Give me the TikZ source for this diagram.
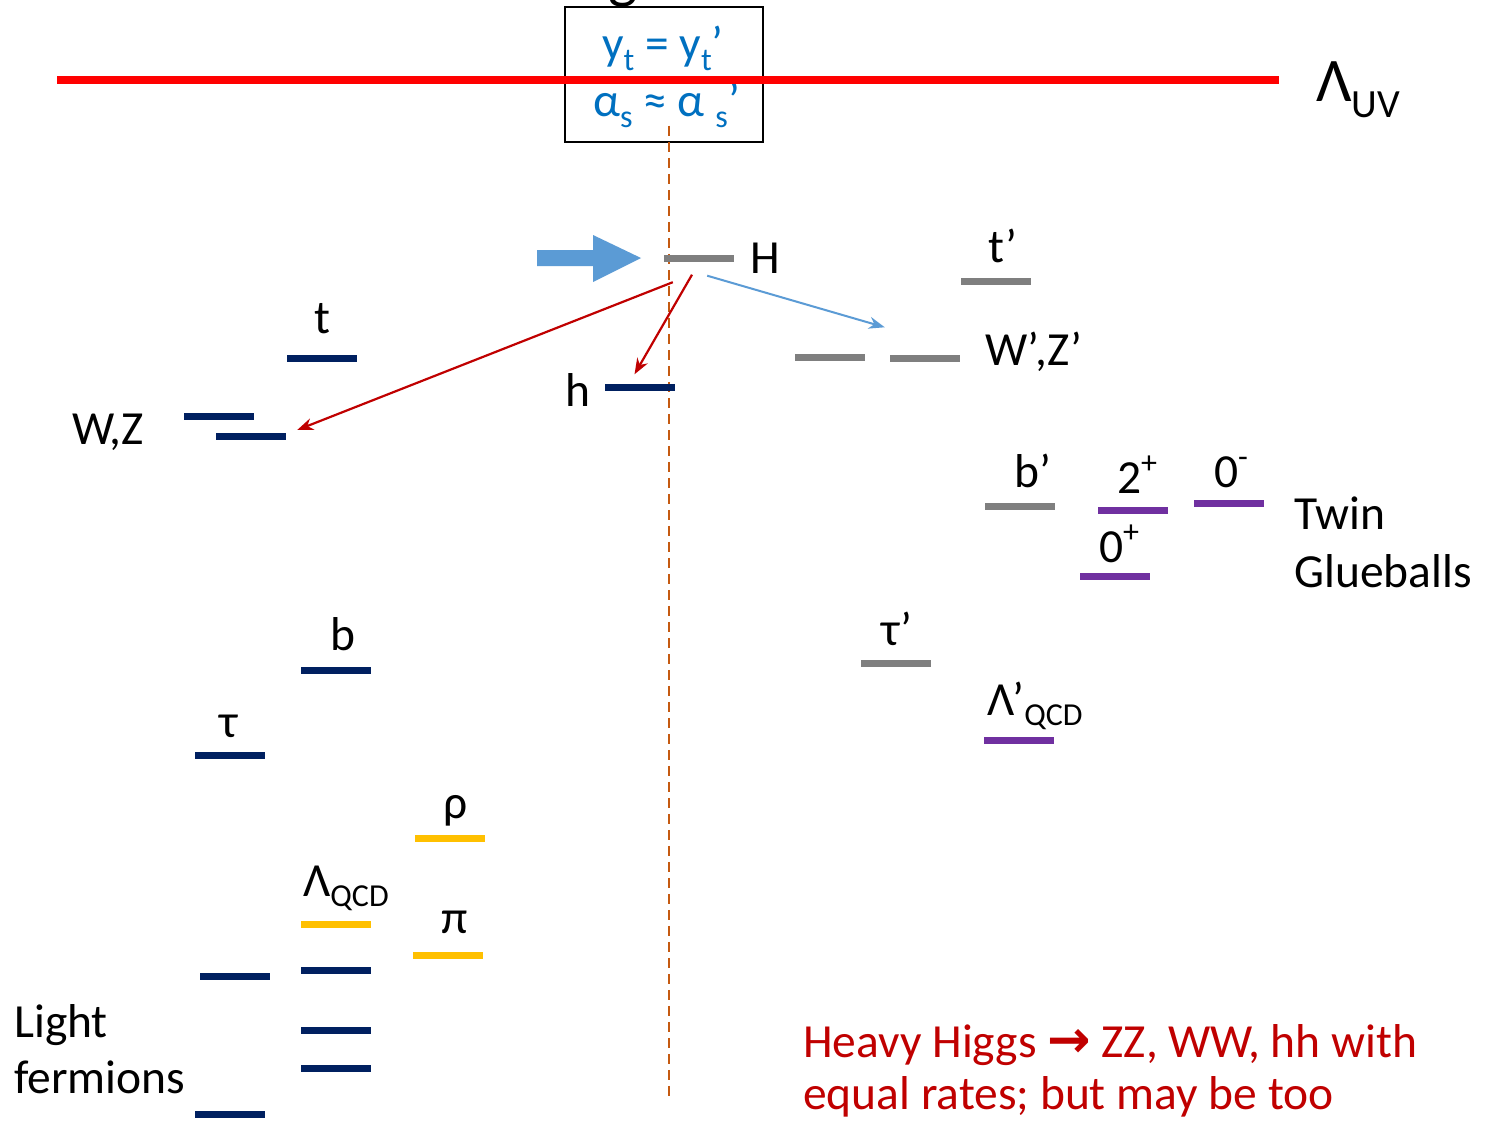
\documentclass[tikz,border=0pt]{standalone}
\usepackage{fontspec}
\setmainfont{Carlito}
\newfontfamily\dejavu{DejaVu Sans}
\usetikzlibrary{arrows.meta,calc}
\definecolor{navy}{HTML}{002060}
\definecolor{lvlgray}{HTML}{7F7F7F}
\definecolor{twinpurple}{HTML}{7030A0}
\definecolor{qcdyellow}{HTML}{FFC000}
\definecolor{boxblue}{HTML}{0070C0}
\definecolor{arrowblue}{HTML}{5B9BD5}
\definecolor{darkred}{HTML}{C00000}
\definecolor{dashorange}{HTML}{C55A11}
\newcommand\sbs[1]{\raisebox{-0.22em}{\fontsize{32}{32}\selectfont #1}}
\newcommand\sps[1]{\raisebox{0.42em}{\fontsize{32}{32}\selectfont #1}}
\begin{document}
\begin{tikzpicture}[x=1pt,y=-1pt,
  lvl/.style={rectangle, inner sep=0pt, minimum width=70pt, minimum height=7pt},
  sm/.style={fill=navy}, tw/.style={fill=lvlgray}, pu/.style={fill=twinpurple}, ye/.style={fill=qcdyellow},
  lbl/.style={inner sep=0pt, anchor=base, font=\fontsize{47.5}{57}\selectfont},
  lblw/.style={lbl, anchor=base west},
  decay/.style={darkred, line width=2.2pt, -{Stealth[length=16pt,width=12pt]}},
  mix/.style={arrowblue, line width=2pt, -{Stealth[length=16pt,width=12pt]}}]
\useasboundingbox (0,0) rectangle (1488,1121);
\fill[white] (0,0) rectangle (1488,1121);

% cut-off title glyph
\node[anchor=base, inner sep=0pt, font=\fontsize{62}{62}\selectfont] (gfrag) at (623,-3) {g};

% coupling box
\node[draw, line width=1.5pt, minimum width=198pt, minimum height=135pt, inner sep=0pt] (box) at (664,74.5) {};
\node[lblw, text=boxblue] (c1) at (602,60) {y\sbs{t} = y\sbs{t}’};
\node[lblw, text=boxblue] (c2) at (593,117) {α\sbs{s} ≈ α \sbs{s}’};

% UV line
\draw[red, line width=8pt] (57,80) -- (1279,80);
\node[lblw, font=\fontsize{62}{62}\selectfont] (uv) at (1316,102) {Λ\raisebox{-0.25em}{\fontsize{40}{40}\selectfont UV}};

% dashed line
\coordinate (dashend) at (669,1100);
\draw[dashorange, line width=2.2pt, dash pattern=on 10pt off 6pt] ($(box.south)+(5,-17)$) -- (dashend);

% heavy Higgs
\node[lvl,tw] (Hbar) at (699,258) {};
\node[lblw] (Hlab) at (750,273) {H};
\fill[arrowblue] (537,250) -- (593,250) -- (593,235) -- (641,258) -- (593,282) -- (593,266) -- (537,266) -- cycle;

% SM side
\node[lvl,sm] (hbar) at (639.5,387) {};
\node[lbl] (hlab) at (578,406) {h};
\node[lvl,sm] (tbar) at (322,358) {};
\node[lbl] (tlab) at (322,333) {t};
\node[lvl,sm] (wz1) at (219,416) {};
\node[lvl,sm] (wz2) at (251,436) {};
\node[lblw] (wzlab) at (72,444) {W,Z};
\node[lvl,sm] (bbar) at (336,670) {};
\node[lbl] (blab) at (343,650) {b};
\node[lvl,sm] (taubar) at (230,755) {};
\node[lbl] (taulab) at (229,737) {τ};
\node[lvl,ye] (rhobar) at (450,838) {};
\node[lbl] (rholab) at (456,818) {ρ};
\node[lvl,ye] (lqcdbar) at (336,924) {};
\node[lblw] (lqcdlab) at (303,896) {Λ\sbs{QCD}};
\node[lvl,ye] (pibar) at (448,955) {};
\node[lbl] (pilab) at (455,933) {π};
\node[lvl,sm] (lf1) at (235,976) {};
\node[lvl,sm] (lf2) at (336,970) {};
\node[lvl,sm] (lf3) at (336,1030) {};
\node[lvl,sm] (lf4) at (336,1068) {};
\node[lvl,sm] (lf5) at (230,1114) {};
\node[lblw] (lflab1) at (14,1037) {Light};
\node[lblw] (lflab2) at (14,1093) {fermions};

% twin side
\node[lvl,tw] (tpbar) at (996,281) {};
\node[lbl] (tplab) at (1003,262) {t’};
\node[lvl,tw] (wzp1) at (830,357) {};
\node[lvl,tw] (wzp2) at (925,358) {};
\node[lblw] (wzplab) at (985,365) {W’,Z’};
\node[lvl,tw] (bpbar) at (1020,506) {};
\node[lbl] (bplab) at (1033,487) {b’};
\node[lvl,pu] (g2bar) at (1133,510) {};
\node[lbl] (g2lab) at (1137,493) {2\sps{+}};
\node[lvl,pu] (g0mbar) at (1229,503) {};
\node[lbl] (g0mlab) at (1231,487) {0\sps{-}};
\node[lvl,pu] (g0pbar) at (1115,576) {};
\node[lbl] (g0plab) at (1119,562) {0\sps{+}};
\node[lblw] (tglab1) at (1294,529) {Twin};
\node[lblw] (tglab2) at (1294,587) {Glueballs};
\node[lvl,tw] (taupbar) at (896,663) {};
\node[lbl] (tauplab) at (897,645) {τ'};
\node[lvl,pu] (lqcdpbar) at (1019,740) {};
\node[lblw] (lqcdplab) at (987,715) {Λ’\sbs{QCD}};

% decays
\draw[decay] ($(Hbar.south west)+(9,20.5)$) -- ($(wz2.east)+(11,-6)$);
\draw[decay] ($(Hbar.south)+(-7,13)$) -- ($(hbar.north)+(-5,-9)$);
\draw[mix] ($(Hbar.south east)+(-27,14)$) -- ($(wzp2.north west)+(-5,-27)$);

% note
\node[lblw, text=darkred] (note1) at (803,1057) {Heavy Higgs {\dejavu\bfseries\fontsize{52}{57}\selectfont →} ZZ, WW, hh with};
\node[lblw, text=darkred] (note2) at (803,1109) {equal rates; but may be too};
\end{tikzpicture}
\end{document}
